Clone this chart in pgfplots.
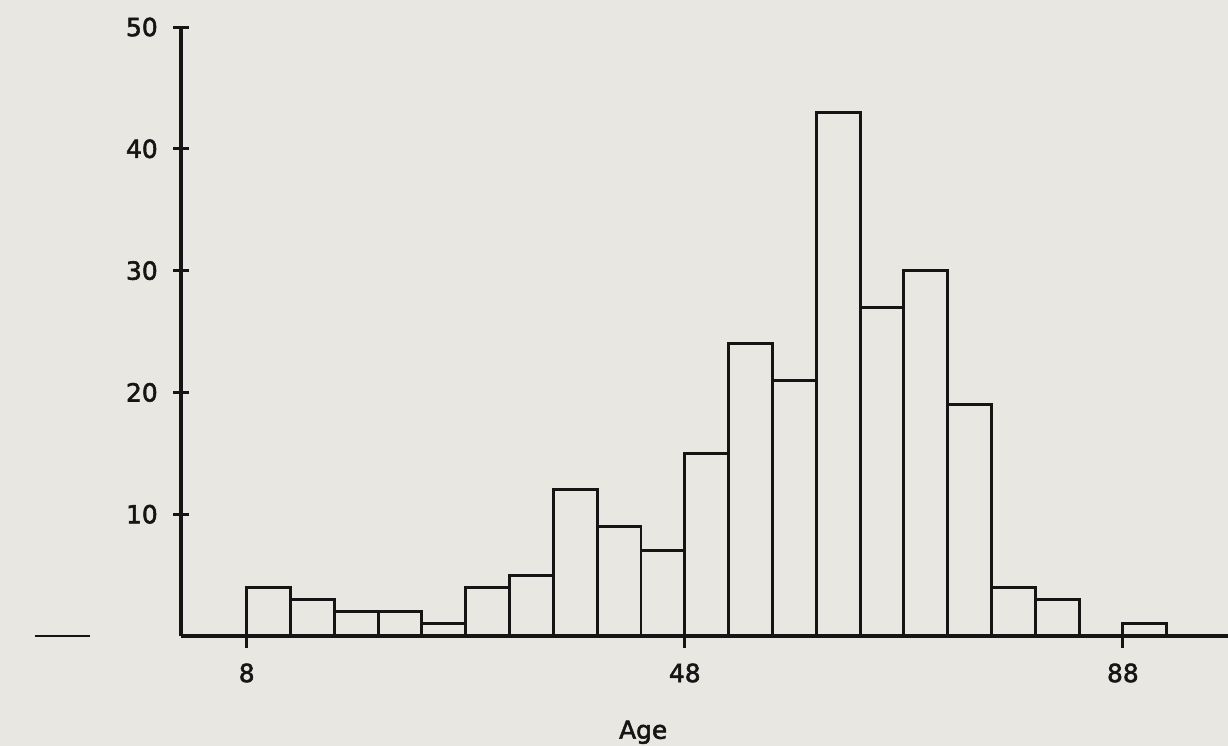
\documentclass[border=0pt]{standalone}
\usepackage{pgfplots}
\pgfplotsset{compat=1.18}
\usepackage{fontspec}
\setmainfont{DejaVu Sans}
\newfontfamily\tickfont[FakeBold=2.2]{DejaVu Sans}
\usetikzlibrary{backgrounds}
\definecolor{paper}{HTML}{E8E7E2}
\definecolor{ink}{HTML}{151515}
\begin{document}
\begin{tikzpicture}
\begin{axis}[
  scale only axis,
  width=523.5bp, height=304.5bp,
  xmin=2, xmax=97.6, ymin=0, ymax=50,
  axis lines=left,
  every inner x axis line/.append style={ink, line width=1.6pt, -},
  every inner y axis line/.append style={ink, line width=1.6pt, -},
  axis line style={ink, line width=1.6pt, -},
  clip=false,
  xtick={8,48,88},
  ytick={10,20,30,40,50},
  xtick align=outside,
  ytick align=center,
  xtick style={ink, line width=1.5pt, /pgfplots/major tick length=6bp},
  ytick style={ink, line width=1.5pt, /pgfplots/major tick length=8bp},
  tick label style={font=\tickfont\fontsize{12.5}{14}\selectfont, text=ink},
  yticklabel style={xshift=-6bp},
  xticklabel style={yshift=-6bp},
  /pgf/number format/assume math mode=true,
]
\addplot[ybar interval, draw=ink, fill=none, line width=1.5pt] coordinates {
 (8,4) (12,3) (16,2) (20,2) (24,1) (28,4) (32,5) (36,12) (40,9) (44,7)
 (48,15) (52,24) (56,21) (60,43) (64,27) (68,30) (72,19) (76,4) (80,3)
 (84,0) (88,1) (92,1)
};
\draw[ink, line width=1.4pt] (axis cs:-11.3,0) -- (axis cs:-6.3,0);
\node[font=\tickfont\fontsize{12.5}{14}\selectfont, text=ink] at (axis cs:44.2,-7.9) {Age};
\coordinate (bl) at (axis cs:-14.53,-9.03);
\coordinate (tr) at (axis cs:97.6,52.22);
\end{axis}
\begin{pgfonlayer}{background}
\fill[paper] (bl) rectangle (tr);
\end{pgfonlayer}
\pgfresetboundingbox
\path (bl) rectangle (tr);
\end{tikzpicture}
\end{document}
